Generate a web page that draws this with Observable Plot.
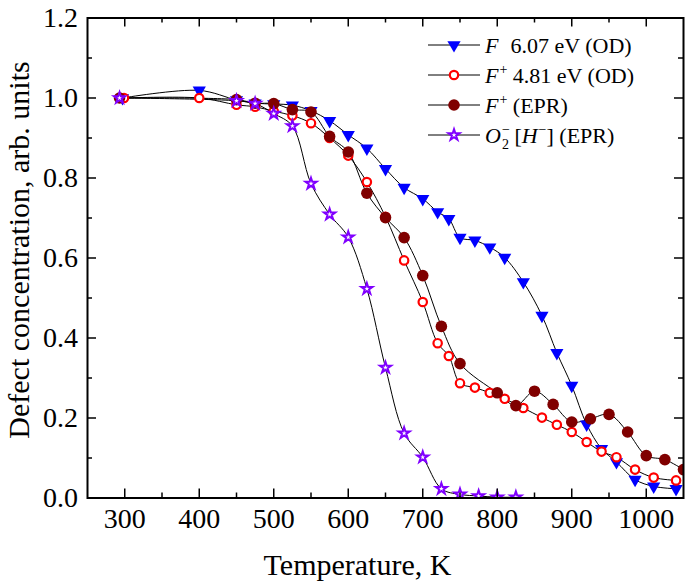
<!DOCTYPE html>
<html>
<head>
<meta charset="utf-8">
<script src="https://cdn.jsdelivr.net/npm/d3@7"></script>
<script src="https://cdn.jsdelivr.net/npm/@observablehq/plot@0.6"></script>
<style>
  html, body { margin: 0; padding: 0; background: white; }
  #chart { position: relative; width: 685px; height: 584px; }
</style>
</head>
<body>
<div id="chart"></div>
<script>
// ---- data ----
const tempF = [297,400,450,475,500,525,550,575,600,625,650,675,700,720,735,750,770,790,810,835,860,880,900,920,940,960,985,1010,1040];
const valF  = [1.0,1.019,0.995,0.987,0.985,0.982,0.968,0.943,0.908,0.874,0.823,0.776,0.748,0.715,0.698,0.651,0.644,0.627,0.601,0.540,0.456,0.363,0.281,0.184,0.123,0.090,0.046,0.029,0.023];

const tempFpOD = [299,400,450,475,500,525,550,575,600,625,650,675,700,720,735,750,770,790,810,835,860,880,900,920,940,960,985,1010,1040];
const valFpOD  = [1.0,1.0,0.983,0.978,0.967,0.956,0.937,0.900,0.856,0.790,0.703,0.594,0.490,0.387,0.355,0.287,0.276,0.263,0.248,0.225,0.201,0.183,0.165,0.140,0.116,0.102,0.071,0.051,0.044];

const tempFpEPR = [293,450,475,500,525,550,575,600,625,650,675,700,725,750,800,825,850,875,900,925,950,975,1000,1025,1050];
const valFpEPR  = [1.0,0.996,0.987,0.986,0.971,0.965,0.904,0.865,0.762,0.701,0.651,0.556,0.429,0.336,0.263,0.231,0.267,0.234,0.190,0.198,0.209,0.165,0.106,0.096,0.071];

const tempO2 = [293,450,475,500,525,550,575,600,625,650,675,700,725,750,775,800,825];
const valO2  = [1.0,0.993,0.986,0.961,0.930,0.786,0.709,0.652,0.523,0.326,0.162,0.102,0.023,0.009,0.005,0.002,0.002];

const xMajor = [300,400,500,600,700,800,900,1000];
const xMinor = [350,450,550,650,750,850,950];
const yMajor = [0,0.2,0.4,0.6,0.8,1.0,1.2];
const yMinor = [0.1,0.3,0.5,0.7,0.9,1.1];

const xTitle = "Temperature, K";
const yTitle = "Defect concentration, arb. units";

const colBlue = "#0000ff", colRed = "#ff0000", colBrown = "#800000", colPurple = "#8000ff";

// ---- helpers ----
const toRows = (ts, vs) => ts.map((t, i) => ({t, v: vs[i]}));
const dF = toRows(tempF, valF);
const dR = toRows(tempFpOD, valFpOD);
const dB = toRows(tempFpEPR, valFpEPR);
const dS = toRows(tempO2, valO2);

const sqrt3 = Math.sqrt(3);
const triangleDown = {
  draw(context, size) {
    const y = -Math.sqrt(size / (sqrt3 * 3));
    context.moveTo(0, -y * 2);
    context.lineTo(-sqrt3 * y, y);
    context.lineTo(sqrt3 * y, y);
    context.closePath();
  }
};

const W = 685, H = 584;
const mL = 87, mR = 2, mT = 17.5, mB = 86.5;
const fw = W - mL - mR, fh = H - mT - mB;
const majLen = 9, minLen = 5;
const font = "'Liberation Serif', 'Times New Roman', serif";

const rF = 4.9, rR = 4.2, rB = 5.8, rS = 3.5;

const lineOpts = {x: "t", y: "v", curve: "catmull-rom", stroke: "black", strokeWidth: 1, clip: true};

const plot = Plot.plot({
  width: W, height: H,
  marginLeft: mL, marginRight: mR, marginTop: mT, marginBottom: mB,
  style: {fontFamily: font, background: "white", color: "black", overflow: "visible"},
  x: {domain: [250, 1050]},
  y: {domain: [0, 1.2]},
  marks: [
    Plot.line(dF, lineOpts),
    Plot.line(dR, lineOpts),
    Plot.line(dB, lineOpts),
    Plot.line(dS, lineOpts),
    Plot.dot(dF, {x: "t", y: "v", symbol: triangleDown, r: rF, fill: colBlue, stroke: "none", clip: true}),
    Plot.dot(dR, {x: "t", y: "v", symbol: "circle", r: rR, fill: "white", stroke: colRed, strokeWidth: 2.2, clip: true}),
    Plot.dot(dB, {x: "t", y: "v", symbol: "circle", r: rB, fill: colBrown, stroke: "none", clip: true}),
    Plot.dot(dS, {x: "t", y: "v", symbol: "star", r: rS, fill: "white", stroke: colPurple, strokeWidth: 2, clip: true}),
    // inward ticks, all four sides
    Plot.ruleX(xMajor, {x: d => d, insetTop: fh - majLen, stroke: "black", strokeWidth: 1.5}),
    Plot.ruleX(xMinor, {x: d => d, insetTop: fh - minLen, stroke: "black", strokeWidth: 1.5}),
    Plot.ruleX(xMajor, {x: d => d, insetBottom: fh - majLen, stroke: "black", strokeWidth: 1.5}),
    Plot.ruleX(xMinor, {x: d => d, insetBottom: fh - minLen, stroke: "black", strokeWidth: 1.5}),
    Plot.ruleY(yMajor, {y: d => d, insetRight: fw - majLen, stroke: "black", strokeWidth: 1.5}),
    Plot.ruleY(yMinor, {y: d => d, insetRight: fw - minLen, stroke: "black", strokeWidth: 1.5}),
    Plot.ruleY(yMajor, {y: d => d, insetLeft: fw - majLen, stroke: "black", strokeWidth: 1.5}),
    Plot.ruleY(yMinor, {y: d => d, insetLeft: fw - minLen, stroke: "black", strokeWidth: 1.5}),
    Plot.frame({stroke: "black", strokeWidth: 2}),
    Plot.axisX({ticks: xMajor, tickSize: 0, tickPadding: 10.5, fontSize: 28, tickFormat: d => String(d), label: null}),
    Plot.axisY({ticks: yMajor, tickSize: 0, tickPadding: 9.5, fontSize: 28, tickFormat: d3.format(".1f"), label: null}),
    Plot.text([xTitle], {text: d => d, frameAnchor: "bottom", textAnchor: "middle", dx: -28, dy: 67, fontSize: 30, lineAnchor: "middle", fill: "black"}),
    Plot.text([yTitle], {text: d => d, frameAnchor: "left", textAnchor: "middle", dx: -68, dy: -8, rotate: -90, fontSize: 30, lineAnchor: "middle", fill: "black"})
  ]
});

document.getElementById("chart").appendChild(plot);

// ---- legend (inside the frame, upper right) ----
const legendItems = [
  {parts: [{t: "F", i: true}, {t: "  6.07 eV (OD)"}], sym: triangleDown, r: rF, fill: colBlue, stroke: "none", sw: 0},
  {parts: [{t: "F", i: true}, {t: "+", sup: true}, {t: " 4.81 eV (OD)"}], sym: d3.symbolCircle, r: rR, fill: "white", stroke: colRed, sw: 2.2},
  {parts: [{t: "F", i: true}, {t: "+", sup: true}, {t: " (EPR)"}], sym: d3.symbolCircle, r: rB, fill: colBrown, stroke: "none", sw: 0},
  {parts: [{t: "O", i: true}, {t: "\u2212", sup: true, stack: true}, {t: "2", sub: true}, {t: " ["}, {t: "H", i: true}, {t: "\u2212", sup: true}, {t: "] (EPR)"}], sym: d3.symbolStar, r: rS, fill: "white", stroke: colPurple, sw: 2}
];
const legX1 = 428, legX2 = 480, legMark = 454, legText = 485, legY0 = 45, legDy = 30, legFont = 22;

const svg = d3.select(plot.tagName.toLowerCase() === "svg" ? plot : plot.querySelector("svg"));
const lg = svg.append("g").attr("font-family", font).attr("fill", "black").attr("text-anchor", "start");
legendItems.forEach((item, k) => {
  const cy = legY0 + k * legDy;
  lg.append("line").attr("x1", legX1).attr("x2", legX2).attr("y1", cy).attr("y2", cy)
    .attr("stroke", "black").attr("stroke-width", 1);
  lg.append("path")
    .attr("d", d3.symbol(item.sym, Math.PI * item.r * item.r)())
    .attr("transform", `translate(${legMark},${cy})`)
    .attr("fill", item.fill).attr("stroke", item.stroke).attr("stroke-width", item.sw);
  let x = legText;
  const base = cy + 7.5;
  item.parts.forEach(p => {
    const small = p.sup || p.sub;
    const el = lg.append("text")
      .attr("x", x)
      .attr("y", base + (p.sup ? -9 : p.sub ? 6 : 0))
      .attr("text-anchor", "start")
      .attr("font-size", small ? 14 : legFont)
      .attr("font-style", p.i ? "italic" : "normal")
      .style("white-space", "pre")
      .text(p.t);
    if (!p.stack) x += el.node().getComputedTextLength() + (p.i ? 1 : 0);
  });
});
</script>
</body>
</html>
